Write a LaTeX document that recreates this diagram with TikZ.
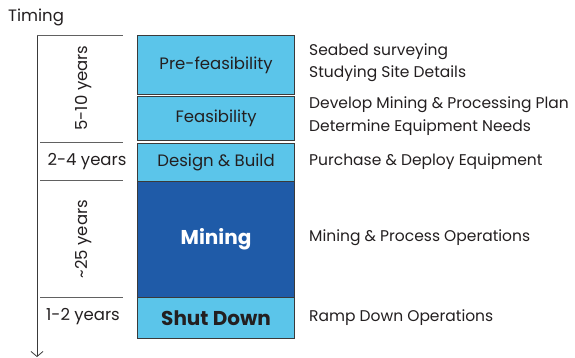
\documentclass[tikz,border=0pt]{standalone}
\usepackage{fontspec}
\setmainfont{Poppins}
\usetikzlibrary{arrows.meta}
\definecolor{phaselight}{HTML}{5BC5EA}
\definecolor{phasedark}{HTML}{1F5BA8}
\definecolor{phaseedge}{HTML}{3A3A3A}
\definecolor{inkgray}{HTML}{231F20}

\begin{document}
\begin{tikzpicture}[x=1pt,y=-1pt,
    phase/.style={draw=phaseedge,line width=1.1pt,fill=phaselight,anchor=north west,
      minimum width=157pt,inner sep=0pt,text=inkgray,font=\fontsize{16.5}{18}\selectfont},
    bigphase/.style={phase,font=\fontsize{20}{22}\selectfont\bfseries},
    span/.style={text=inkgray,font=\fontsize{16.5}{18}\selectfont},
    task/.style={anchor=west,inner sep=0pt,text=inkgray,font=\fontsize{15.5}{17}\selectfont},
    tick/.style={draw=phaseedge!80,line width=0.8pt}]
  \useasboundingbox (0,0) rectangle (575,358);
  % timing axis
  \node[span,anchor=south west,inner sep=0pt] (timing) at (8,26) {Timing};
  \coordinate (axistop) at (37,35);
  \coordinate (axisend) at (37,357);
  \draw[line width=0.8pt,draw=phaseedge,-{Straight Barb[length=5pt,width=12pt]}] (axistop) -- (axisend);
  \draw[tick] (axistop) -- (123,35);
  \draw[tick] (40,142) -- (123,142);
  \draw[tick] (40,180) -- (123,180);
  \draw[tick] (40,297) -- (123,297);
  \node[span,rotate=90] (tpre) at (84,88) {5-10 years};
  \node[span] (tdes) at (87,162) {2-4 years};
  \node[span,rotate=90] (tmin) at (84,239) {\textasciitilde 25 years};
  \node[span] (tshut) at (83,317) {1-2 years};
  % phases
  \node[phase,minimum height=59pt] (pre) at (137,35) {Pre-feasibility};
  \node[phase,minimum height=44pt] (feas) at (137,96.3) {Feasibility};
  \node[phase,minimum height=38pt] (des) at (137,143) {Design \& Build};
  \node[bigphase,minimum height=116pt,fill=phasedark,text=white] (mine) at (137,181) {Mining};
  \node[bigphase,minimum height=41pt] (shut) at (137,297) {Shut Down};
  % activities
  \node[task] (survey) at (309,52) {Seabed surveying};
  \node[task] (site) at (309,74) {Studying Site Details};
  \node[task] (plan) at (309,105) {Develop Mining \& Processing Plan};
  \node[task] (needs) at (309,128) {Determine Equipment Needs};
  \node[task] (deploy) at (309,162) {Purchase \& Deploy Equipment};
  \node[task] (ops) at (309,238) {Mining \& Process Operations};
  \node[task] (ramp) at (309,318) {Ramp Down Operations};
\end{tikzpicture}
\end{document}
